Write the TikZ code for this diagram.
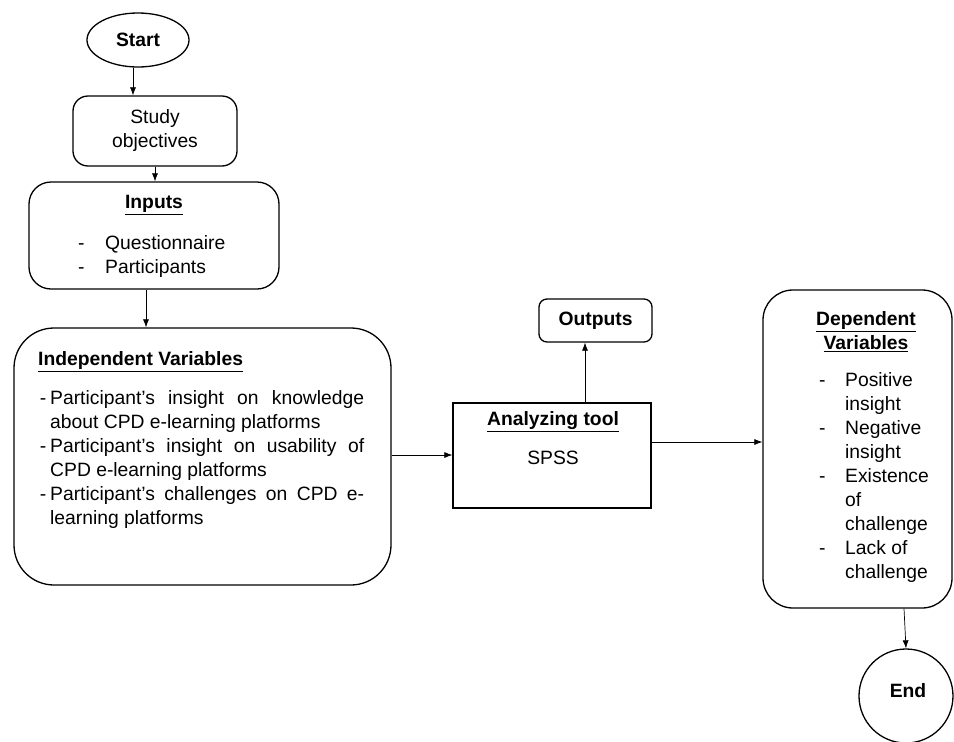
\documentclass[tikz,border=0pt]{standalone}
\usepackage{fontspec}
\setmainfont{Liberation Sans}
\usepackage{tikz}
\usetikzlibrary{shapes.geometric, arrows.meta}
\newcommand{\bodyfont}{\fontsize{19.3}{24}\selectfont}
\newcommand{\headfont}{\fontsize{19.3}{24}\selectfont\bfseries}
\tikzstyle{roundbox} = [rectangle, draw=black, line width=1.3pt, inner sep=0pt]
\tikzstyle{label} = [inner sep=0pt, font=\bodyfont]
\tikzstyle{arrow} = [line width=0.7pt, -{Latex[length=8pt, width=6pt]}]

\begin{document}
\begin{tikzpicture}[x=1pt, y=-1pt]
        \useasboundingbox (0,0) rectangle (954,742);
        % boxes
        \node (start) [ellipse, draw=black, line width=1.3pt, minimum width=102pt, minimum height=54pt, font=\headfont] at (138,40) {Start};
        \node (study) [roundbox, rounded corners=15pt, minimum width=164pt, minimum height=70pt, align=center, font=\bodyfont] at (155,131) {Study\\objectives};
        \node (inputs) [roundbox, rounded corners=22pt, minimum width=250pt, minimum height=107pt] at (154,235.5) {};
        \node (indep) [roundbox, rounded corners=40pt, minimum width=377pt, minimum height=257pt] at (202.5,456.5) {};
        \node (analyze) [roundbox, minimum width=198pt, minimum height=105pt] at (552,455.5) {};
        \node (outputs) [roundbox, rounded corners=8pt, minimum width=113pt, minimum height=43pt, font=\headfont] at (595.5,320.5) {Outputs};
        \node (dep) [roundbox, rounded corners=30pt, minimum width=189pt, minimum height=318pt] at (857.5,449) {};
        \node (endc) [circle, draw=black, line width=1.3pt, minimum size=94pt, inner sep=0pt] at (906,696) {};

        % texts
        \node (inputstitle) [label, font=\headfont] at (154,205) {\underline{Inputs}};
        \node (inputslist) [label, anchor=base west] at (78,249) {\begin{tabular}[t]{@{}p{27pt}@{}l@{}}
            - & Questionnaire\\
            - & Participants
        \end{tabular}};
        \node (indeptitle) [label, font=\headfont, anchor=west] at (38,362) {\underline{Independent Variables}};
        \node (indeplist) [label, anchor=base west, text width=314pt, align=justify] at (50,404.5) {%
            \noindent\llap{-\hspace{4pt}}Participant's insight on knowledge\linebreak about CPD e-learning platforms\par
            \noindent\llap{-\hspace{4pt}}Participant's insight on usability of\linebreak CPD e-learning platforms\par
            \noindent\llap{-\hspace{4pt}}Participant's challenges on CPD e-\linebreak learning platforms};
        \node (analyzetitle) [label, font=\headfont] at (553,422) {\underline{Analyzing tool}};
        \node (spss) [label] at (553,458) {SPSS};
        \node (deptitle) [label, font=\headfont, align=center] at (866,332) {\underline{Dependent}\\\underline{Variables}};
        \node (deplist) [label, anchor=base west] at (819,386) {\begin{tabular}[t]{@{}p{26pt}@{}l@{}}
            - & Positive\\
              & insight\\
            - & Negative\\
              & insight\\
            - & Existence\\
              & of\\
              & challenge\\
            - & Lack of\\
              & challenge
        \end{tabular}};
        \node (endtext) [label, font=\headfont] at (908,691) {End};

        % connectors
        \draw [arrow] ([xshift=-5pt]start.south) -- ([xshift=-5pt]start.south |- study.north);
        \draw [arrow] (study.south) -- (study.south |- inputs.north);
        \draw [arrow] ([xshift=-8pt]inputs.south) -- ([xshift=-8pt]inputs.south |- indep.north);
        \draw [arrow] ([yshift=1.5pt]indep.east) -- ([yshift=1.5pt]indep.east -| analyze.west);
        \draw [arrow] ([xshift=33pt]analyze.north) -- ([xshift=33pt]analyze.north |- outputs.south);
        \draw [arrow] ([yshift=13.5pt]analyze.east) -- ([yshift=13.5pt]analyze.east -| dep.west);
        \draw [arrow] ([xshift=46.5pt]dep.south) -- (endc.north);
    \end{tikzpicture}
\end{document}
